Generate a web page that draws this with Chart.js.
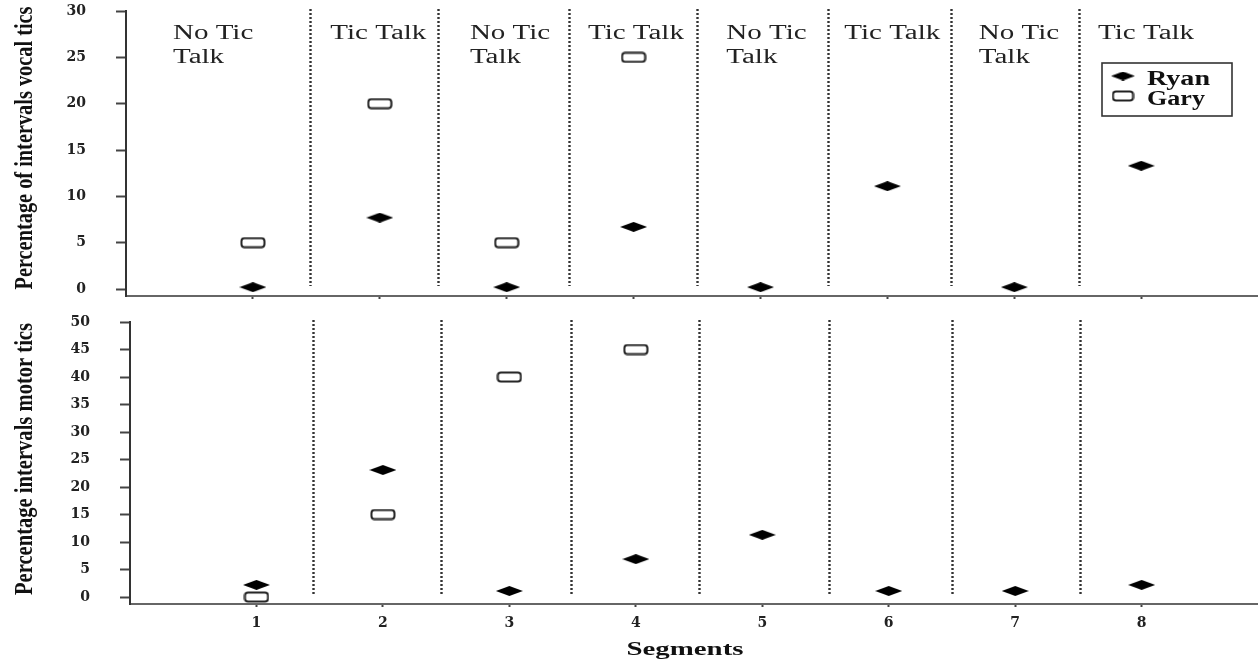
<!DOCTYPE html>
<html><head><meta charset="utf-8">
<script src="https://cdn.jsdelivr.net/npm/chart.js@4.4.1/dist/chart.umd.min.js"></script>
<style>
html,body{margin:0;padding:0;background:#fff;width:1258px;height:664px;overflow:hidden}
canvas{position:absolute;left:0}
#top{top:0}
#bot{top:310px}
</style></head>
<body>
<canvas id="top" width="1258" height="310"></canvas>
<canvas id="bot" width="1258" height="354"></canvas>
<script>
// ---- data ----
const segments = [1, 2, 3, 4, 5, 6, 7, 8];
const phaseLabels = [['No Tic', 'Talk'], ['Tic Talk'], ['No Tic', 'Talk'], ['Tic Talk'], ['No Tic', 'Talk'], ['Tic Talk'], ['No Tic', 'Talk'], ['Tic Talk']];
const phaseBoundaries = [1.45, 2.46, 3.49, 4.5, 5.53, 6.5, 7.51];
const vocalTicks = [0, 5, 10, 15, 20, 25, 30];
const motorTicks = [0, 5, 10, 15, 20, 25, 30, 35, 40, 45, 50];
const seriesNames = ['Ryan', 'Gary'];
const ryanVocal = [0.2, 7.7, 0.2, 6.7, 0.2, 11.1, 0.2, 13.3];
const garyVocal = [5, 20, 5, 25, null, null, null, null];
const ryanMotor = [2.2, 23.1, 1.1, 6.9, 11.3, 1.1, 1.1, 2.2];
const garyMotor = [0, 15, 40, 45, null, null, null, null];
const vocalTitle = 'Percentage of intervals vocal tics';
const motorTitle = 'Percentage intervals motor tics';
const xTitle = 'Segments';

// ---- marker images ----
function diamond(w, h) {
  const c = document.createElement('canvas'); c.width = w; c.height = h;
  const g = c.getContext('2d');
  g.fillStyle = '#000';
  g.beginPath(); g.moveTo(0, h / 2); g.lineTo(w / 2, 0); g.lineTo(w, h / 2); g.lineTo(w / 2, h); g.closePath(); g.fill();
  return c;
}
function openRect(w, h) {
  const c = document.createElement('canvas'); c.width = w; c.height = h;
  const g = c.getContext('2d');
  g.fillStyle = '#fff'; g.strokeStyle = '#222'; g.lineWidth = 2;
  g.beginPath(); g.roundRect(1.5, 1.5, w - 3, h - 3, 3); g.fill(); g.stroke();
  return c;
}
const ryanMark = diamond(27, 10);
const garyMark = openRect(26, 12);
const ryanLegendMark = diamond(24, 9);
const garyLegendMark = openRect(23, 12);

const SERIF = '"Liberation Serif", "Times New Roman", serif';
const TICKFONT = { family: '"DejaVu Serif", serif', size: 14, weight: 'bold' };

function pts(vals) {
  const out = [];
  segments.forEach((s, i) => { if (vals[i] != null) out.push({ x: s, y: vals[i] }); });
  return out;
}

function stretchText(ctx, text, x, y, font, sx, align) {
  ctx.save(); ctx.font = font; ctx.textAlign = align || 'left'; ctx.textBaseline = 'alphabetic';
  ctx.translate(x, y); ctx.scale(sx, 1); ctx.fillText(text, 0, 0); ctx.restore();
}
function fitText(ctx, text, cx, y, len, font) {
  ctx.save(); ctx.font = font; const w = ctx.measureText(text).width;
  ctx.textAlign = 'center'; ctx.textBaseline = 'alphabetic';
  ctx.translate(cx, y); ctx.scale(len / w, 1); ctx.fillText(text, 0, 0); ctx.restore();
}
function vTitle(ctx, text, cx, cy, len, font, thick) {
  ctx.save(); ctx.font = font; const w = ctx.measureText(text).width;
  ctx.translate(cx, cy); ctx.rotate(-Math.PI / 2); ctx.scale(len / w, thick);
  ctx.textAlign = 'center'; ctx.textBaseline = 'middle'; ctx.fillStyle = '#111';
  ctx.fillText(text, 0, 0); ctx.restore();
}

const phasePlugin = {
  id: 'phases',
  beforeDatasetsDraw(chart, args, opts) {
    const ctx = chart.ctx, xs = chart.scales.x, ys = chart.scales.y, a = chart.chartArea;
    ctx.save();
    ctx.strokeStyle = '#333'; ctx.lineWidth = 2.4; ctx.setLineDash([2, 2]);
    phaseBoundaries.forEach(b => {
      const px = Math.round(xs.getPixelForValue(b)) + 0.5;
      ctx.beginPath(); ctx.moveTo(px, a.top - 2); ctx.lineTo(px, ys.getPixelForValue(0) - 3); ctx.stroke();
    });
    ctx.restore();
    if (opts.labels) {
      ctx.save(); ctx.fillStyle = '#222';
      phaseLabels.forEach((lines, i) => {
        const px = xs.getPixelForValue(opts.labelX[i]);
        lines.forEach((t, j) => stretchText(ctx, t, px, 39 + j * 24, '20px ' + SERIF, 1.45, 'left'));
      });
      ctx.restore();
    }
  },
  afterDraw(chart, args, opts) {
    const ctx = chart.ctx, a = chart.chartArea;
    vTitle(ctx, opts.title, 25, opts.titleY, opts.titleLen, 'bold 18px ' + SERIF, 1.45);
    if (opts.xTitle) {
      ctx.save(); ctx.fillStyle = '#111';
      fitText(ctx, opts.xTitle, 685, 345, 117, 'bold 19px ' + SERIF);
      ctx.restore();
    }
    if (opts.legend) {
      const bx = a.right - 156, by = a.top + 52, bw = 130, bh = 53;
      ctx.save();
      ctx.strokeStyle = '#333'; ctx.lineWidth = 1.6; ctx.strokeRect(bx, by, bw, bh);
      const marks = [ryanLegendMark, garyLegendMark];
      const rows = [by + 13, by + 33];
      ctx.fillStyle = '#111';
      seriesNames.forEach((n, i) => {
        const m = marks[i];
        ctx.drawImage(m, bx + 21 - m.width / 2, rows[i] - m.height / 2);
        fitText(ctx, n, bx + 45 + (i === 0 ? 31.5 : 29), rows[i] + 9, i === 0 ? 63 : 58, 'bold 20px ' + SERIF);
      });
      ctx.restore();
    }
  }
};

function noPad(s) { s.paddingTop = 0; s.paddingBottom = 0; s.paddingLeft = 0; s.paddingRight = 0; }

function makeChart(id, ryan, gary, ticks, ymin, ymax, yWidth, xHeight, padTop, showX, extra) {
  return new Chart(document.getElementById(id), {
    type: 'scatter',
    data: {
      datasets: [
        { label: seriesNames[0], data: pts(ryan), pointStyle: ryanMark, pointRadius: 8, showLine: false, clip: false },
        { label: seriesNames[1], data: pts(gary), pointStyle: garyMark, pointRadius: 8, showLine: false, clip: false }
      ]
    },
    options: {
      responsive: false, animation: false, events: [],
      layout: { autoPadding: false, padding: { top: padTop, left: 0, right: 0, bottom: 0 } },
      plugins: { legend: { display: false }, tooltip: { enabled: false }, phases: extra },
      scales: {
        x: {
          type: 'linear', min: 0, max: 8.92,
          afterBuildTicks: s => { s.ticks = segments.map(v => ({ value: v })); },
          afterFit: s => { s.height = xHeight; noPad(s); },
          grid: { drawOnChartArea: false, drawTicks: true, tickLength: 3, tickWidth: 2, color: '#444' },
          border: { display: true, color: '#666', width: 2 },
          ticks: { display: showX, font: TICKFONT, color: '#222', padding: 8 }
        },
        y: {
          min: ymin, max: ymax,
          afterBuildTicks: s => { s.ticks = ticks.map(v => ({ value: v })); },
          afterFit: s => { s.width = yWidth; noPad(s); },
          grid: { drawOnChartArea: false, drawTicks: true, tickLength: 10, tickWidth: 2, color: '#444' },
          border: { display: true, color: '#333', width: 2 },
          ticks: { font: TICKFONT, color: '#222', padding: 30 }
        }
      }
    },
    plugins: [phasePlugin]
  });
}

makeChart('top', ryanVocal, garyVocal, vocalTicks, -0.755, 30, 126, 14, 11, false,
  { labels: true, labelX: [0.37, 1.61, 2.71, 3.64, 4.73, 5.66, 6.72, 7.66], title: vocalTitle, titleY: 148, titleLen: 283, legend: true });
makeChart('bot', ryanMotor, garyMotor, motorTicks, -1.27, 50, 130, 60, 12, true,
  { labels: false, title: motorTitle, titleY: 149, titleLen: 272, xTitle: xTitle, legend: false });
</script>
</body></html>
